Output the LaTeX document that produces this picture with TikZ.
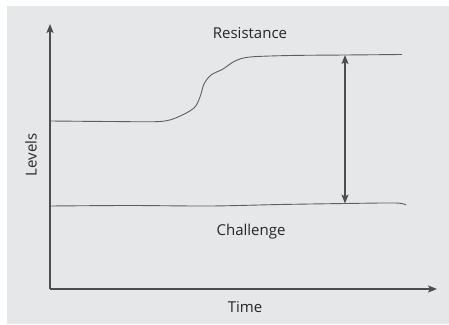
\documentclass[tikz,border=0pt]{standalone}
\usepackage{fontspec}
\setmainfont{Open Sans}
\usepackage{tikz}
\usetikzlibrary{arrows.meta}
\definecolor{panel}{HTML}{E6E7E8}
\definecolor{ink}{HTML}{4D4D4F}
\definecolor{txt}{HTML}{262626}

\begin{document}
\begin{tikzpicture}[x=1pt,y=-1pt,
  axis/.style={draw=ink,line width=1.4pt,-{Stealth[length=9pt,width=7pt,inset=2pt]}},
  level/.style={draw=ink!90,line width=0.9pt},
  gap/.style={draw=ink,line width=1.2pt,{Stealth[length=9pt,width=7pt,inset=2pt]}-{Stealth[length=9pt,width=7pt,inset=2pt]}},
  lbl/.style={text=txt,font=\fontsize{15}{17}\selectfont,inner sep=0pt}]
\useasboundingbox (0,0) rectangle (449,324);
\fill[white] (0,0) rectangle (449,324);
\fill[panel] (7,6) rectangle (449,324);
% axes
\coordinate (origin) at (50,289);
\coordinate (ytip) at (50,24);
\coordinate (xtip) at (437,289);
\draw[axis] (origin) -- (ytip);
\draw[axis] (origin) -- (xtip);
% levels
\draw[level] plot[smooth,tension=0.5] coordinates {(50,121) (110,121.5) (160,121.5) (178,117) (194,108) (200,97) (204,84) (211,75) (223,69) (235,61) (250,57) (290,55.5) (345,55) (402,54.5)};
\draw[level] plot[smooth,tension=0.5] coordinates {(50,206) (130,205.5) (210,206) (280,204.5) (345,203.5) (396,203) (406,205)};
\coordinate (gapTop) at (345,55);
\coordinate (gapBot) at (345,203.5);
\draw[gap] (gapTop) -- (gapBot);
% labels
\node[lbl] (resistance) at (250,33) {Resistance};
\node[lbl] (challenge) at (251,232) {Challenge};
\node[lbl] (time) at (245,307) {Time};
\node[lbl,rotate=90] (levels) at (31,155) {Levels};
\end{tikzpicture}
\end{document}
